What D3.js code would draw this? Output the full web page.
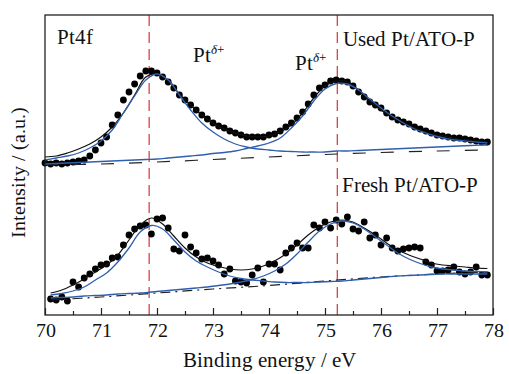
<!DOCTYPE html>
<html>
<head>
<meta charset="utf-8">
<script src="https://cdn.jsdelivr.net/npm/d3@7"></script>
<style>
  @font-face { font-family: "ChartSerif"; src: local("Liberation Serif"), local("LiberationSerif-Regular"), local("LiberationSerif"); font-style: normal; }
  @font-face { font-family: "ChartSerif"; src: local("Liberation Serif Italic"), local("LiberationSerif-Italic"); font-style: italic; }
  html, body { margin: 0; padding: 0; background: #fff; }
  svg { display: block; }
  svg text { font-family: "ChartSerif", "Liberation Serif", serif; }
</style>
</head>
<body>
<svg id="chart" width="509" height="374"></svg>
<script>
// Pt 4f XPS spectra, binding energy (eV) vs intensity (a.u.)

// Used Pt/ATO-P: measured points [eV, intensity]
const usedPoints = [
  [70.0,15.2],[70.1,15.1],[70.2,15.2],[70.3,15.1],[70.4,15.2],[70.5,15.3],[70.6,15.4],[70.7,15.5],[70.8,15.9],[70.9,16.5],
  [71.0,17.2],[71.1,17.8],[71.2,19.0],[71.3,20.0],[71.4,21.5],[71.5,22.3],[71.6,23.1],[71.7,23.9],[71.8,24.4],[71.9,24.4],
  [72.0,24.2],[72.1,23.8],[72.2,23.3],[72.3,22.7],[72.4,22.0],[72.5,21.5],[72.6,21.0],[72.7,20.5],[72.8,20.0],[72.9,19.6],
  [73.0,19.2],[73.1,18.9],[73.2,18.7],[73.3,18.4],[73.4,18.2],[73.5,18.0],[73.6,17.8],[73.7,17.8],[73.8,17.8],[73.9,17.8],
  [74.0,18.0],[74.1,18.1],[74.2,18.4],[74.3,18.8],[74.4,19.2],[74.5,19.7],[74.6,20.3],[74.7,21.1],[74.8,22.0],[74.9,22.7],
  [75.0,23.0],[75.1,23.4],[75.2,23.5],[75.3,23.4],[75.4,23.3],[75.5,22.9],[75.6,22.3],[75.7,21.8],[75.8,21.3],[75.9,21.0],
  [76.0,20.7],[76.1,20.2],[76.2,19.8],[76.3,19.5],[76.4,19.3],[76.5,19.1],[76.6,18.8],[76.7,18.6],[76.8,18.4],[76.9,18.2],
  [77.0,18.0],[77.1,17.9],[77.2,17.8],[77.3,17.7],[77.4,17.7],[77.5,17.6],[77.6,17.5],[77.7,17.4],[77.8,17.3],[77.9,17.3]
];

// Used Pt/ATO-P: fit curves sampled on this energy grid
const usedFitE = [70.0,70.2,70.4,70.6,70.8,71.0,71.2,71.4,71.6,71.8,72.0,72.2,72.4,72.6,72.8,73.0,73.2,73.4,73.6,73.8,
                  74.0,74.2,74.4,74.6,74.8,75.0,75.2,75.4,75.6,75.8,76.0,76.2,76.4,76.6,76.8,77.0,77.2,77.4,77.6,77.8,77.9];
const usedEnvelope = [15.8,15.9,16.2,16.6,17.1,17.8,18.8,20.2,22.0,23.8,24.1,23.5,22.1,21.0,20.0,19.2,18.6,18.2,17.9,17.8,
                      17.9,18.3,19.0,20.2,21.7,22.9,23.4,23.3,22.5,21.4,20.5,19.8,19.2,18.7,18.3,18.0,17.8,17.6,17.5,17.4,17.3];
const usedPeak1 = [15.5,15.7,15.9,16.2,16.7,17.4,18.5,20.2,21.9,23.5,24.1,23.5,22.0,20.5,19.2,18.3,17.6,17.1,16.8,16.6,
                   16.5,16.4,16.35,16.3,16.3,16.3,16.4,16.4,16.45,16.5,16.55,16.6,16.65,16.7,16.75,16.8,16.85,16.9,16.95,17.0,17.0];
const usedPeak2 = [15.1,15.15,15.2,15.25,15.3,15.35,15.4,15.45,15.5,15.55,15.6,15.7,15.8,15.9,16.0,16.15,16.25,16.4,16.65,16.9,
                   17.2,17.7,18.7,19.9,21.4,22.6,23.15,23.1,22.5,21.6,20.7,19.9,19.2,18.6,18.2,17.85,17.6,17.45,17.35,17.25,17.2];
const usedBgE = [70.0,71.0,72.0,73.0,74.0,75.0,76.0,77.0,77.9];
const usedBg  = [15.0,15.1,15.3,15.55,15.8,16.05,16.25,16.4,16.5];

// Fresh Pt/ATO-P: measured points [eV, intensity]
const freshPoints = [
  [70.1,1.6],[70.2,1.5],[70.3,1.8],[70.4,1.4],[70.5,3.3],[70.6,2.8],[70.7,3.7],[70.8,4.1],[70.9,4.6],
  [71.0,5.0],[71.1,5.1],[71.2,5.7],[71.3,5.8],[71.4,7.0],[71.5,8.0],[71.6,8.6],[71.7,8.9],[71.8,9.0],[71.9,8.1],
  [72.0,9.6],[72.1,9.7],[72.2,8.7],[72.3,6.6],[72.4,6.4],[72.5,8.0],[72.6,6.8],[72.7,6.2],[72.8,5.6],[72.9,5.7],
  [73.0,5.4],[73.1,5.0],[73.2,4.1],[73.3,4.6],[73.4,3.4],[73.5,3.3],[73.6,3.2],[73.7,4.0],[73.8,4.7],[73.9,3.3],
  [74.0,5.1],[74.1,5.1],[74.2,4.5],[74.3,6.2],[74.4,6.7],[74.5,7.2],[74.6,6.7],[74.7,6.7],[74.8,9.0],[74.9,8.7],
  [75.0,9.3],[75.1,8.7],[75.2,9.5],[75.3,9.1],[75.4,9.8],[75.5,8.6],[75.6,8.4],[75.7,9.3],[75.8,7.7],[75.9,8.0],
  [76.0,7.0],[76.1,7.7],[76.2,6.7],[76.3,6.4],[76.4,6.6],[76.5,6.7],[76.6,6.8],[76.7,6.7],[76.8,5.3],[76.9,5.0],
  [77.0,4.4],[77.1,4.4],[77.2,4.5],[77.3,4.8],[77.4,4.3],[77.5,4.1],[77.6,4.3],[77.7,4.8],[77.8,4.0],[77.9,4.0]
];

// Fresh Pt/ATO-P: fit curves sampled on this energy grid
const freshFitE = [70.1,70.3,70.5,70.7,70.9,71.1,71.3,71.5,71.7,71.9,72.1,72.3,72.5,72.7,72.9,73.1,73.3,73.5,73.7,73.9,
                   74.1,74.3,74.5,74.7,74.9,75.1,75.3,75.5,75.7,75.9,76.1,76.3,76.5,76.7,76.9,77.1,77.3,77.5,77.7,77.9];
const freshEnvelope = [2.2,2.5,3.0,3.6,4.3,5.0,6.0,7.5,9.0,9.7,9.1,7.9,6.7,5.8,5.2,4.85,4.6,4.5,4.6,4.9,
                       5.4,6.1,7.0,8.0,8.8,9.3,9.5,9.3,8.7,8.0,7.2,6.5,6.0,5.6,5.2,5.0,4.9,4.8,4.7,4.65];
const freshPeak1 = [2.0,2.15,2.4,2.8,3.5,4.2,5.3,6.7,8.3,8.95,8.6,7.5,6.3,5.4,4.8,4.3,3.9,3.65,3.5,3.4,
                    3.3,3.25,3.25,3.25,3.3,3.35,3.4,3.5,3.6,3.7,3.8,3.9,3.95,4.0,4.05,4.1,4.1,4.1,4.1,4.1];
const freshPeak2 = [1.7,1.75,1.8,1.9,1.95,2.0,2.1,2.15,2.2,2.3,2.4,2.5,2.6,2.7,2.8,2.95,3.1,3.3,3.55,3.9,
                    4.4,5.1,6.1,7.3,8.4,9.1,9.4,9.2,8.6,7.8,7.0,6.2,5.6,5.15,4.8,4.6,4.5,4.4,4.35,4.3];
const freshBgE = [70.1,71.0,72.0,73.0,74.0,75.0,76.0,77.0,77.9];
const freshBg  = [1.5,1.8,2.2,2.6,2.95,3.4,3.8,4.1,4.3];

// Peak positions marked with reference lines (eV)
const refLines = [71.86, 75.22];

const xDomain = [70, 78];
const majorTicks = [70, 71, 72, 73, 74, 75, 76, 77, 78];
const minorTicks = [70.5, 71.5, 72.5, 73.5, 74.5, 75.5, 76.5, 77.5];

const labels = {
  x: "Binding energy / eV",
  y: "Intensity / (a.u.)",
  core: "Pt4f",
  used: "Used Pt/ATO-P",
  fresh: "Fresh Pt/ATO-P"
};

const FONT = "'Liberation Serif'";
const margin = { left: 45, right: 16, top: 15, bottom: 59 };
const W = 509, H = 374;
const svg = d3.select("#chart");

const x = d3.scaleLinear().domain(xDomain).range([margin.left, W - margin.right]);
const y = d3.scaleLinear().domain([0, 30]).range([H - margin.bottom, margin.top]);

const line = d3.line().x(d => x(d[0])).y(d => y(d[1])).curve(d3.curveCatmullRom.alpha(0.5));
const zip = (xs, ys) => xs.map((v, i) => [v, ys[i]]);

// Peak reference lines
svg.append("g").selectAll("line").data(refLines).join("line")
  .attr("x1", d => x(d)).attr("x2", d => x(d))
  .attr("y1", margin.top).attr("y2", H - margin.bottom + 2)
  .attr("stroke", "#d9434a").attr("stroke-width", 1.3)
  .attr("stroke-dasharray", "11,6");

// Data points
const dots = svg.append("g").attr("fill", "#000");
dots.selectAll("circle.used").data(usedPoints).join("circle")
  .attr("class", "used").attr("cx", d => x(d[0])).attr("cy", d => y(d[1])).attr("r", 3.4);
dots.selectAll("circle.fresh").data(freshPoints).join("circle")
  .attr("class", "fresh").attr("cx", d => x(d[0])).attr("cy", d => y(d[1])).attr("r", 3.4);

// Backgrounds
svg.append("path").datum(zip(usedBgE, usedBg)).attr("d", line)
  .attr("fill", "none").attr("stroke", "#222").attr("stroke-width", 1.2).attr("stroke-dasharray", "13,15");
svg.append("path").datum(zip(freshBgE, freshBg)).attr("d", line)
  .attr("fill", "none").attr("stroke", "#222").attr("stroke-width", 1.2).attr("stroke-dasharray", "10,5,2,5");

// Envelopes
[[usedFitE, usedEnvelope], [freshFitE, freshEnvelope]].forEach(([e, v]) => {
  svg.append("path").datum(zip(e, v)).attr("d", line)
    .attr("fill", "none").attr("stroke", "#111").attr("stroke-width", 1.2);
});

// Component peaks
[[usedFitE, usedPeak1], [usedFitE, usedPeak2], [freshFitE, freshPeak1], [freshFitE, freshPeak2]].forEach(([e, v]) => {
  svg.append("path").datum(zip(e, v)).attr("d", line)
    .attr("fill", "none").attr("stroke", "#2f5fae").attr("stroke-width", 1.3);
});

// Frame
svg.append("rect")
  .attr("x", margin.left).attr("y", margin.top)
  .attr("width", W - margin.left - margin.right).attr("height", H - margin.top - margin.bottom)
  .attr("fill", "none").attr("stroke", "#222").attr("stroke-width", 1.3);

// Bottom axis with inward ticks
const axisY = H - margin.bottom;
const gx = svg.append("g").attr("transform", `translate(0,${axisY})`)
  .call(d3.axisBottom(x).tickValues(majorTicks).tickFormat(d3.format("d"))
    .tickSizeInner(-7).tickSizeOuter(0).tickPadding(8));
gx.attr("font-family", FONT).attr("font-size", 20);
gx.select(".domain").remove();
gx.selectAll(".tick line").attr("stroke", "#222").attr("stroke-width", 1.2);
gx.selectAll(".tick text").attr("font-family", FONT).attr("font-size", 20).attr("fill", "#111");

const gm = svg.append("g").attr("transform", `translate(0,${axisY})`)
  .call(d3.axisBottom(x).tickValues(minorTicks).tickFormat("").tickSizeInner(-4).tickSizeOuter(0));
gm.select(".domain").remove();
gm.selectAll(".tick line").attr("stroke", "#222").attr("stroke-width", 1.2);

function addText(px, py, size, str) {
  const t = svg.append("text").attr("x", px).attr("y", py)
    .attr("font-family", FONT).attr("font-size", size).attr("fill", "#111");
  if (str) t.text(str);
  return t;
}

// Axis titles
addText((x(78) + x(70)) / 2, 367, 21, labels.x).attr("text-anchor", "middle");
addText(0, 0, 20, labels.y).attr("text-anchor", "middle")
  .attr("transform", "translate(25,172) rotate(-90)");

// Annotations
addText(57, 44, 21, labels.core);
addText(343, 46, 21, labels.used);
addText(342, 192, 21, labels.fresh);

function ptDelta(px, py) {
  const t = addText(px, py, 21, null);
  t.append("tspan").text("Pt");
  t.append("tspan").attr("dy", -8).attr("font-size", 13).attr("font-style", "italic").text("δ");
  t.append("tspan").attr("font-size", 13).text("+");
}
ptDelta(193, 62);
ptDelta(295, 70);
</script>
</body>
</html>
